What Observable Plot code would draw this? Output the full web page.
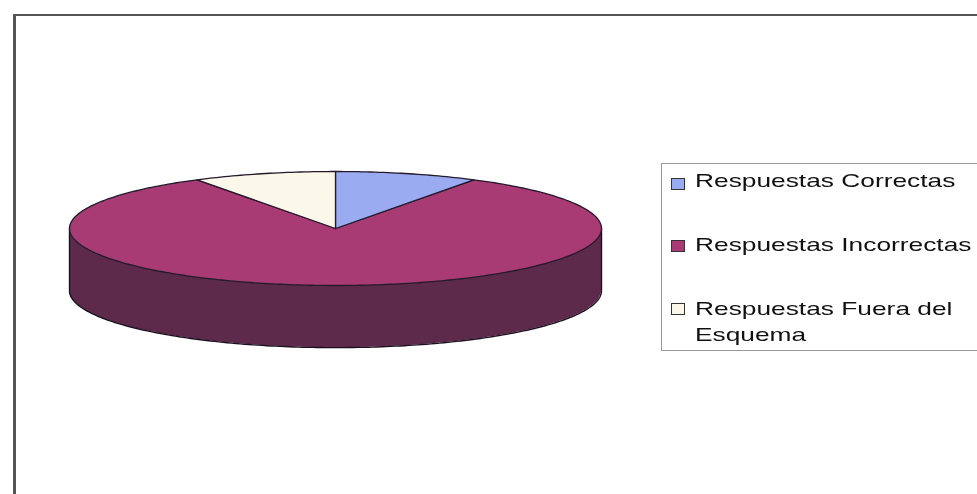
<!DOCTYPE html>
<html><head><meta charset="utf-8">
<script src="https://cdn.jsdelivr.net/npm/d3@7"></script>
<script src="https://cdn.jsdelivr.net/npm/@observablehq/plot@0.6"></script>
<style>
html,body{margin:0;padding:0;background:#fff;overflow:hidden}
#wrap{position:relative;width:977px;height:494px;overflow:hidden;background:#fff;filter:blur(0.55px)}
#frame{position:absolute;left:13px;top:14px;width:980px;height:500px;border-left:3px solid #555;border-top:2px solid #555;box-sizing:border-box}
#chart{position:absolute;left:0;top:0}
#legend{position:absolute;left:661px;top:163px;width:330px;height:188px;border:1px solid #9a9a9a;box-sizing:border-box;background:#fff;font-family:"Liberation Sans",Arial,sans-serif;font-size:19px;line-height:23px;color:#111}
.sw{position:absolute;left:9px;width:12px;height:10px;border:1.5px solid #333;box-sizing:content-box}
.tx{position:absolute;left:33px;white-space:nowrap;transform-origin:0 0;transform:scaleX(1.385)}
</style></head><body>
<div id="wrap"><div id="frame"></div><div id="chart"></div><div id="legend"></div></div>
<script>
const categories = ["Respuestas Correctas","Respuestas Incorrectas","Respuestas Fuera del Esquema"];
const values = [8.7, 82.6, 8.7];
const colors = ["#9aabf2","#a83b74","#fbf8ea"];
const sideColor = "#5e2a4c";
const depth = 1.09;

const total = d3.sum(values);
let acc = 0;
const slices = categories.map((name,i)=>{const s=acc/total*2*Math.PI; acc+=values[i]; return {name,start:s,end:acc/total*2*Math.PI};});
const pts = [];
for (const s of slices){
  const n = Math.max(4, Math.round((s.end-s.start)*60));
  pts.push({name:s.name,x:0,y:0});
  for(let k=0;k<=n;k++){const a=s.start+(s.end-s.start)*k/n; pts.push({name:s.name,x:Math.sin(a),y:Math.cos(a)});}
  pts.push({name:s.name,x:0,y:0});
}
const drawOrder = [categories[1],categories[0],categories[2]];
const ordered = drawOrder.flatMap(n=>pts.filter(p=>p.name===n));
const side = d3.range(0,181).map(k=>{const a=Math.PI/2+Math.PI*k/180; return {x:Math.sin(a),y:Math.cos(a)};});

const plot = Plot.plot({
  width:977,height:494,margin:0,
  x:{domain:[-1,1],range:[69,601],axis:null},
  y:{domain:[-1,1],range:[285,171],axis:null},
  color:{domain:categories,range:colors},
  style:{background:"transparent"},
  marks:[
    Plot.areaY(side,{x:"x",y1:"y",y2:d=>d.y-depth,fill:sideColor}),
    Plot.line(side,{x:"x",y:d=>d.y-depth,stroke:"#1c1020",strokeWidth:1.4}),
    Plot.ruleX([-1,1],{y1:0,y2:-depth,stroke:"#1c1020",strokeWidth:1.4}),
    Plot.line(ordered,{x:"x",y:"y",z:"name",fill:"name",stroke:"#241a2c",strokeWidth:1.3,curve:"linear"})
  ]
});
document.getElementById("chart").append(plot);

const legend = document.getElementById("legend");
const rows = [
  {i:0,sw:14,tx:[[categories[0],5]]},
  {i:1,sw:76,tx:[[categories[1],69]]},
  {i:2,sw:139,tx:[["Respuestas Fuera del",133],["Esquema",159]]}
];
rows.forEach(r=>{
  const s=document.createElement("div");s.className="sw";s.style.top=r.sw+"px";s.style.background=colors[r.i];legend.append(s);
  r.tx.forEach(([t,top])=>{const d=document.createElement("div");d.className="tx";d.style.top=top+"px";d.textContent=t;legend.append(d);});
});
</script></body></html>
